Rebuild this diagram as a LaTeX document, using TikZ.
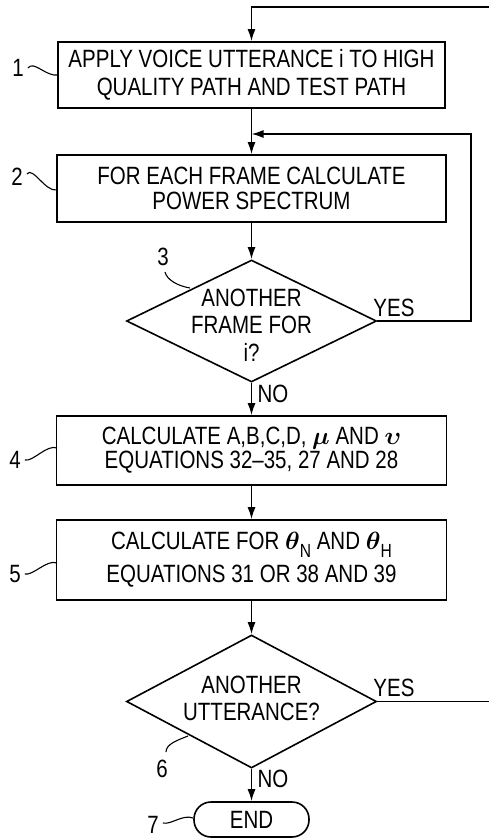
\documentclass[tikz,border=0pt]{standalone}
\usepackage{amsmath}
\usepackage{fontspec}
\setmainfont{Liberation Sans}[FakeStretch=0.82]
\usetikzlibrary{shapes.geometric,arrows.meta}
\tikzset{
  flow/.style={line width=1.6pt},
  arr/.style={flow,-{Latex[length=12pt,width=8pt]}},
  box/.style={draw,line width=1.6pt,inner sep=0pt,align=center,font=\fontsize{25}{27}\selectfont},
  dia/.style={draw,line width=1.6pt,shape=diamond,inner sep=0pt,shape aspect=2},
  txt/.style={inner sep=0pt,align=center,font=\fontsize{25}{27}\selectfont},
  lbl/.style={inner sep=0pt,font=\fontsize{25}{27}\selectfont},
  sq/.style={line width=1.1pt}
}
\begin{document}
\begin{tikzpicture}[x=1pt,y=-1pt]
\useasboundingbox (0,0) rectangle (489,840);

% process boxes
\node[box,minimum width=387pt,minimum height=66pt,font=\fontsize{25}{28}\selectfont] (b1) at (251.5,75)
  {APPLY VOICE UTTERANCE i TO HIGH\\QUALITY PATH AND TEST PATH};
\node[box,minimum width=389pt,minimum height=67pt,font=\fontsize{25}{24.5}\selectfont] (b2) at (251.5,188.5)
  {FOR EACH FRAME CALCULATE\\POWER SPECTRUM};
\node[dia,minimum width=250pt,minimum height=122pt] (d3) at (251.5,321) {};
\node[txt,font=\fontsize{25}{27.5}\selectfont] (t3) at (251.5,325) {ANOTHER\\FRAME FOR\\i?};
\node[box,minimum width=390pt,minimum height=69pt,font=\fontsize{25}{24}\selectfont] (b4) at (251.5,450.5)
  {CALCULATE A,B,C,D, $\boldsymbol{\mu}$ AND $\boldsymbol{\upsilon}$\\EQUATIONS 32--35, 27 AND 28};
\node[box,minimum width=390pt,minimum height=80pt,font=\fontsize{25}{31}\selectfont] (b5) at (251.5,560)
  {CALCULATE FOR $\boldsymbol{\theta}$\raisebox{-0.3em}{\fontsize{19}{19}\selectfont N} AND $\boldsymbol{\theta}$\raisebox{-0.3em}{\fontsize{19}{19}\selectfont H}\\[2pt]EQUATIONS 31 OR 38 AND 39};
\node[dia,minimum width=250pt,minimum height=133pt] (d6) at (251.5,701.5) {};
\node[txt] (t6) at (251.5,698.5) {ANOTHER\\UTTERANCE?};
\node[draw,line width=1.6pt,rounded corners=17pt,minimum width=115pt,minimum height=35pt,inner sep=0pt,
  font=\fontsize{25}{27}\selectfont] (e7) at (251.5,819.5) {END};

% connectors
\coordinate (topR) at (489,7);
\coordinate (yes6R) at (489,701.5);
\coordinate (j2) at (251.5,134);
\coordinate (r3) at (471,321);
\draw[arr] (topR) -| (b1.north);
\draw[arr] (b1.south) -- (b2.north);
\draw[arr] (d3.east) -- (r3) |- (j2);
\draw[arr] (b2.south) -- (d3.north);
\draw[arr] (d3.south) -- (b4.north);
\draw[arr] (b4.south) -- (b5.north);
\draw[arr] (b5.south) -- (d6.north);
\draw[flow] (d6.east) -- (yes6R);
\draw[arr] (d6.south) -- (e7.north);

% branch labels
\node[lbl] (y3) at (394,308) {YES};
\node[lbl] (n3) at (273,394) {NO};
\node[lbl] (y6) at (394,688) {YES};
\node[lbl] (n6) at (273,779) {NO};

% reference numerals
\node[lbl] (L1) at (18,68) {1};
\node[lbl] (L2) at (17,177) {2};
\node[lbl] (L3) at (163,257) {3};
\node[lbl] (L4) at (15,460) {4};
\node[lbl] (L5) at (15,574) {5};
\node[lbl] (L6) at (162,769) {6};
\node[lbl] (L7) at (153,825) {7};
\coordinate (s1) at (58,75);
\coordinate (s2) at (57,190);
\coordinate (s3) at (190,288);
\coordinate (s4) at (57,448);
\coordinate (s5) at (57,563);
\coordinate (s6) at (188,736);
\coordinate (s7) at (193,818);
\draw[sq] (L1.east) ++(4,0) .. controls +(6,-8) and +(-12,2) .. (s1);
\draw[sq] (L2.east) ++(4,-3) .. controls +(6,-8) and +(-12,2) .. (s2);
\draw[sq] (L3.south) ++(2,6) .. controls +(2,8) and +(-12,-2) .. (s3);
\draw[sq] (L4.east) ++(4,0) .. controls +(8,2) and +(-10,-4) .. (s4);
\draw[sq] (L5.east) ++(4,0) .. controls +(8,2) and +(-10,-4) .. (s5);
\draw[sq] (L6.north) ++(4,-8) .. controls +(0,-8) and +(-10,4) .. (s6);
\draw[sq] (L7.east) ++(4,-2) .. controls +(8,2) and +(-10,-4) .. (s7);
\end{tikzpicture}
\end{document}
